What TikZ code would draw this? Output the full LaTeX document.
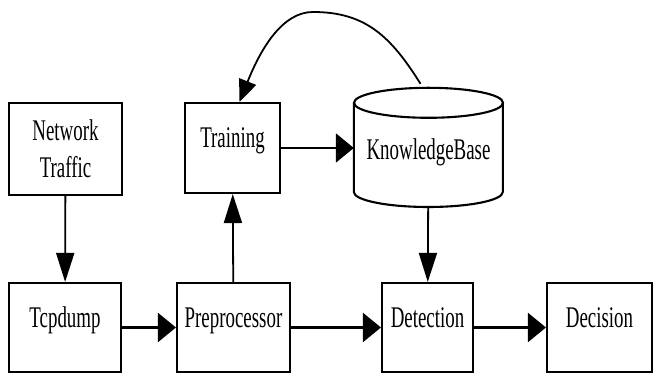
\documentclass[tikz,border=0pt]{standalone}
\usepackage{fontspec}
\setmainfont[FakeStretch=0.63]{Liberation Serif}
\usetikzlibrary{arrows.meta}

\tikzset{
  blk/.style={draw, line width=2.1pt, inner sep=0pt, align=center,
    font=\fontsize{30}{37}\selectfont},
  mid/.style={text height=14pt, text depth=14pt},
  harr/.style={line width=2.1pt, -{Triangle[length=18pt,width=29pt]}},
  varr/.style={line width=1.8pt, -{Triangle[length=29pt,width=18pt]}},
  carr/.style={line width=1.8pt, -{Triangle[length=22pt,width=18pt]}}
}

\begin{document}
\begin{tikzpicture}[x=1pt, y=1pt]
    \useasboundingbox (0,0) rectangle (654,374);

    % top row
    \node[blk, minimum width=113pt, minimum height=92pt] (traffic) at (65.5, 225) {Network\\Traffic};
    \node[blk, mid, minimum width=95pt, minimum height=90pt] (training) at (232.5, 226) {Training};
    \node[inner sep=0pt, minimum width=149pt, minimum height=119pt, mid,
      font=\fontsize{30}{37}\selectfont] (kb) at (428.5, 226.5) {\raisebox{-12pt}{KnowledgeBase}};

    % the cylinder round kb
    \draw[line width=2.1pt] (kb.west) ++(0, 44.5) -- ++(0, -89)
      arc[start angle=180, end angle=360, x radius=74.5pt, y radius=15pt]
      -- ++(0, 89);
    \draw[line width=2.1pt] ([yshift=-15pt]kb.north) ellipse[x radius=74.5pt, y radius=15pt];

    % bottom row
    \node[blk, mid, minimum width=112pt, minimum height=89pt] (tcpdump) at (65, 46.5) {Tcpdump};
    \node[blk, mid, minimum width=113pt, minimum height=89pt] (prep) at (233.5, 46.5) {Preprocessor};
    \node[blk, mid, minimum width=91pt, minimum height=89pt] (detect) at (427.5, 46.5) {Detection};
    \node[blk, mid, minimum width=105pt, minimum height=89pt] (decision) at (599.5, 46.5) {Decision};

    \draw[varr] (traffic) -- (tcpdump);
    \draw[varr] (prep) -- (training);
    \draw[harr] (training) -- (kb.west |- training);
    \draw[varr] (kb) -- (detect);
    \draw[harr] (tcpdump) -- (prep);
    \draw[harr] (prep) -- (detect);
    \draw[harr] (detect) -- (decision);

    % feedback from the knowledge base
    \coordinate (peak) at (313, 362);
    \draw[carr] ([xshift=-8pt, yshift=4pt]kb.north) .. controls +(-30, 48) and +(52, 0) .. (peak)
      .. controls +(-30, 0) and +(22, 55) .. ([xshift=7pt]training.north);
\end{tikzpicture}
\end{document}
